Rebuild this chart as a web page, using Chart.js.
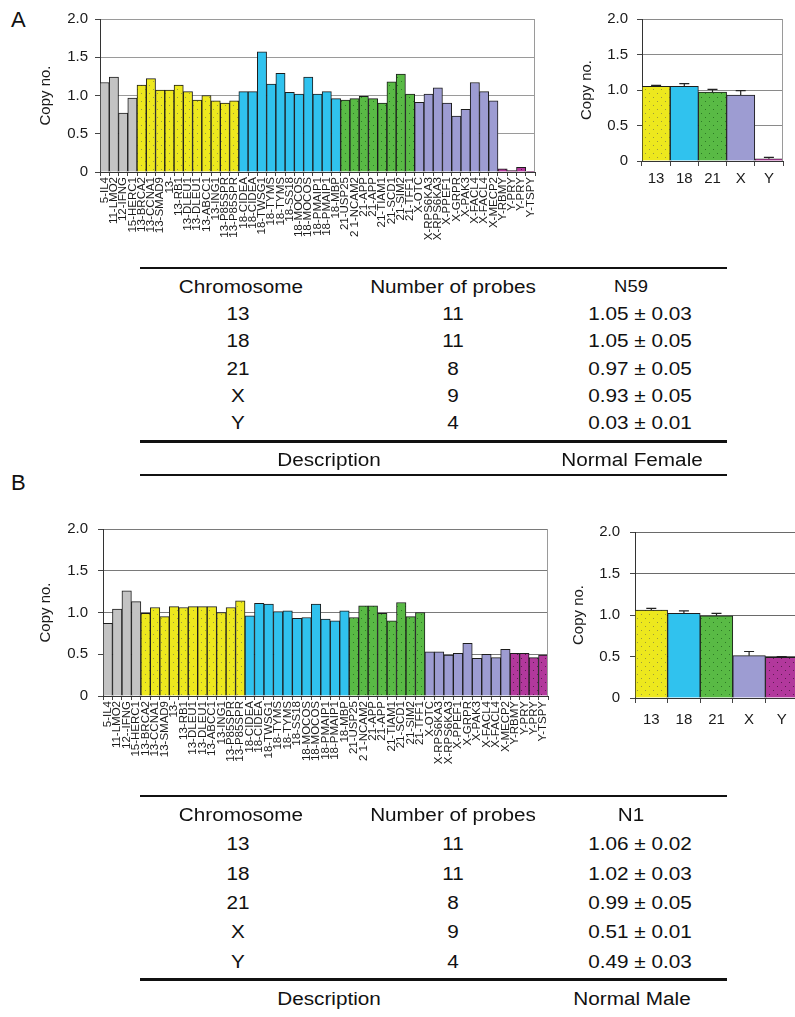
<!DOCTYPE html>
<html>
<head>
<meta charset="utf-8">
<script src="https://cdn.jsdelivr.net/npm/chart.js@4.4.0/dist/chart.umd.min.js"></script>
<style>
  html, body { margin: 0; padding: 0; background: #fff; }
  body { width: 795px; height: 1017px; overflow: hidden; position: relative; font-family: "Liberation Sans", Arial, sans-serif; color: #111; }
  canvas { position: absolute; }
  .panel { position: absolute; font-size: 22px; }
  .t { position: absolute; white-space: nowrap; font-size: 18px; transform: translate(-50%, -50%) scaleX(1.15); }
  .rule { position: absolute; left: 140px; width: 587px; background: #111; }
</style>
</head>
<body>
<div class="panel" style="left:11px;top:7px;">A</div>
<div class="panel" style="left:11px;top:470px;">B</div>
<canvas id="cA" width="545" height="260" style="left:0;top:0;width:545px;height:260px;"></canvas>
<canvas id="cAs" width="255" height="200" style="left:540px;top:0;width:255px;height:200px;"></canvas>
<canvas id="cB" width="560" height="340" style="left:0;top:465px;width:560px;height:340px;"></canvas>
<canvas id="cBs" width="262" height="280" style="left:540px;top:465px;width:262px;height:280px;"></canvas>
<div id="tables"></div>
<script>
// probe labels (same order in both samples)
var probes = ['5-IL4','11-LMO2','12-IFNG','15-HERC1',
  '13-BRCA2','13-CCNA1','13-SMAD9','13-','13-RB1','13-DLEU1','13-DLEU1','13-ABCC1','13-ING1','13-P85SPR','13-P85SPR',
  '18-CIDEA','18-CIDEA','18-TWSG1','18-TYMS','18-TYMS','18-SS18','18-MOCOS','18-MOCOS','18-PMAIP1','18-PMAIP1','18-MBP',
  '21-USP25','2 1-NCAM2','21-APP','21-APP','21-TIAM1','21-SCD1','21-SIM2','21-TFF1',
  'X-OTC','X-RPS6KA3','X-RPS6KA3','X-PPEF1','X-GRPR','X-PAK3','X-FACL4','X-FACL4','X-MECP2',
  'Y-RBMY','Y-PRY','Y-PRY','Y-TSPY'];
var probesB = probes.slice(); probesB[2] = '12--IFNG';

// copy numbers per probe
var copyA = [1.17,1.24,0.77,0.965,
  1.135,1.22,1.07,1.07,1.135,1.05,0.94,1.0,0.93,0.90,0.93,
  1.05,1.05,1.57,1.15,1.29,1.04,1.02,1.24,1.02,1.05,0.96,
  0.94,0.96,0.99,0.96,0.90,1.18,1.28,1.02,
  0.91,1.02,1.10,0.90,0.73,0.82,1.17,1.05,0.93,
  0.04,0.02,0.06,0.01];
var copyB = [0.87,1.04,1.26,1.13,
  0.99,1.06,0.95,1.07,1.06,1.07,1.07,1.07,1.0,1.06,1.14,
  0.96,1.11,1.10,1.01,1.02,0.93,0.94,1.10,0.92,0.90,1.02,
  0.94,1.08,1.08,0.99,0.90,1.12,0.95,1.0,
  0.53,0.53,0.49,0.51,0.63,0.45,0.50,0.46,0.56,
  0.51,0.51,0.46,0.49];

// per-chromosome summary
var chroms = ['13','18','21','X','Y'];
var probeCount = [11, 11, 8, 9, 4];
var meanA = [1.05, 1.05, 0.97, 0.93, 0.03];
var sdA = [0.03, 0.05, 0.05, 0.05, 0.01];
var meanB = [1.06, 1.02, 0.99, 0.51, 0.49];
var sdB = [0.02, 0.03, 0.05, 0.01, 0.03];
// error bars as drawn in the small charts
var errA = [0.015, 0.04, 0.04, 0.06, 0.02];
var errB = [0.02, 0.03, 0.03, 0.05, 0.01];
var yTicks = [0, 0.5, 1.0, 1.5, 2.0];

var FONT = '"Liberation Sans", Arial, sans-serif';

function dotted(base, dot, step) {
  var c = document.createElement('canvas');
  c.width = step; c.height = step;
  var g = c.getContext('2d');
  g.fillStyle = base; g.fillRect(0, 0, step, step);
  g.fillStyle = dot;
  g.fillRect(1, 1, 1, 1);
  g.fillRect(1 + step / 2, 1 + step / 2, 1, 1);
  return g.createPattern(c, 'repeat');
}

var fills = {
  gray: '#c3c3c3',
  y13: dotted('#ede81e', '#9c9a3c', 8),
  c18: '#30c2ee',
  g21: dotted('#59ba45', '#2d7a25', 8),
  pX: '#9d9cd2',
  mY: dotted('#b2389c', '#5e1a52', 8)
};
function fillFor(label) {
  var p = label.replace(/\s/g, '').split('-')[0];
  if (p === '13') return fills.y13;
  if (p === '18') return fills.c18;
  if (p === '21') return fills.g21;
  if (p === 'X') return fills.pX;
  if (p === 'Y') return fills.mY;
  return fills.gray;
}

// right frame line + error bars
var extras = {
  id: 'extras',
  afterDatasetsDraw: function (chart, args, opts) {
    var ctx = chart.ctx, a = chart.chartArea;
    ctx.save();
    if (opts.frame) {
      ctx.strokeStyle = '#9a9a9a'; ctx.lineWidth = 1;
      ctx.beginPath(); ctx.moveTo(a.right - 0.5, a.top); ctx.lineTo(a.right - 0.5, a.bottom); ctx.stroke();
    }
    if (opts.err) {
      var meta = chart.getDatasetMeta(0), ys = chart.scales.y;
      var vals = chart.data.datasets[0].data;
      ctx.strokeStyle = '#222'; ctx.lineWidth = 1.2;
      meta.data.forEach(function (bar, i) {
        var top = ys.getPixelForValue(vals[i] + opts.err[i]);
        ctx.beginPath();
        ctx.moveTo(bar.x, bar.y); ctx.lineTo(bar.x, top);
        ctx.moveTo(bar.x - 5, top); ctx.lineTo(bar.x + 5, top);
        ctx.stroke();
      });
    }
    ctx.restore();
  }
};

function makeChart(id, cfg) {
  var small = cfg.small;
  return new Chart(document.getElementById(id), {
    type: 'bar',
    data: {
      labels: cfg.labels,
      datasets: [{
        data: cfg.values,
        backgroundColor: cfg.colors,
        borderColor: '#1c1c1c',
        borderWidth: 1,
        categoryPercentage: 1,
        barPercentage: 1
      }]
    },
    options: {
      responsive: false,
      animation: false,
      events: [],
      layout: { padding: cfg.pad },
      plugins: {
        legend: { display: false },
        tooltip: { enabled: false },
        extras: { frame: cfg.frame, err: cfg.err }
      },
      scales: {
        x: {
          grid: { display: true, drawOnChartArea: false, drawTicks: true, tickLength: small ? 5 : 4, color: '#444' },
          border: { color: '#333', width: 1 },
          ticks: {
            autoSkip: false,
            maxRotation: small ? 0 : 90,
            minRotation: small ? 0 : 90,
            padding: small ? cfg.xpad : 1,
            color: '#1a1a1a',
            font: { family: FONT, size: small ? 15 : 11.5 }
          },
          afterFit: function (s) { s.height = cfg.xh; s.paddingLeft = 0; s.paddingRight = 0; }
        },
        y: {
          min: 0, max: 2,
          afterBuildTicks: function (s) { s.ticks = yTicks.map(function (v) { return { value: v }; }); },
          grid: { color: cfg.grid, lineWidth: 1, drawTicks: true, tickLength: 5, tickColor: '#444' },
          border: { color: '#333', width: 1 },
          ticks: {
            padding: cfg.ypad,
            color: '#1a1a1a',
            font: { family: FONT, size: 15 },
            callback: function (v) { return v === 0 ? '0' : v.toFixed(1); }
          },
          title: { display: true, text: 'Copy no.', color: '#1a1a1a', font: { family: FONT, size: 15 }, padding: { top: 4, bottom: 0 } },
          afterFit: function (s) { s.width = cfg.yw; s.paddingTop = 0; s.paddingBottom = 0; }
        }
      }
    },
    plugins: [extras]
  });
}

makeChart('cA', {
  labels: probes, values: copyA, colors: probes.map(fillFor),
  pad: { left: 33, top: 19, right: 10, bottom: 0 }, yw: 67, xh: 88, ypad: 7, grid: '#9a9a9a', frame: true
});
makeChart('cAs', {
  small: true, labels: chroms, values: meanA, colors: chroms.map(function (c) { return fillFor(c + '-'); }),
  pad: { left: 34, top: 19, right: 12, bottom: 0 }, yw: 68, xh: 39, ypad: 9, xpad: 4, grid: '#8a8a8a', frame: true, err: errA
});
makeChart('cB', {
  labels: probesB, values: copyB, colors: probesB.map(fillFor),
  pad: { left: 33, top: 64, right: 12, bottom: 0 }, yw: 70, xh: 109, ypad: 10, grid: '#7a7a7a', frame: true
});
makeChart('cBs', {
  small: true, labels: chroms, values: meanB, colors: chroms.map(function (c) { return fillFor(c + '-'); }),
  pad: { left: 26, top: 67, right: 4, bottom: 0 }, yw: 69, xh: 47, ypad: 10, xpad: 8, grid: '#6a6a6a', frame: false, err: errB
});

// summary tables
function fmt(m, s) { return m.toFixed(2) + ' \u00b1 ' + s.toFixed(2); }
function buildTable(top, rowGap, sample, means, sds, desc, bottomRule) {
  var html = '';
  function txt(x, y, s, size) {
    html += '<div class="t" style="left:' + x + 'px;top:' + y + 'px;' + (size ? 'font-size:' + size + 'px;' : '') + '">' + s + '</div>';
  }
  function rule(y, h) { html += '<div class="rule" style="top:' + (y - h / 2) + 'px;height:' + h + 'px;"></div>'; }
  rule(top, 2);
  var hy = top + 19;
  txt(241, hy, 'Chromosome');
  txt(453, hy, 'Number of probes');
  txt(631, hy, sample, sample.length > 2 ? 16 : 18);
  chroms.forEach(function (c, i) {
    var y = hy + rowGap * (i + 1);
    txt(238, y, c);
    txt(453, y, String(probeCount[i]));
    txt(640, y, fmt(means[i], sds[i]));
  });
  var ly = hy + rowGap * 5 + 18;
  rule(ly, 3);
  txt(329, ly + 19, 'Description');
  txt(632, ly + 19, desc);
  if (bottomRule) rule(ly + 34, 1.5);
  return html;
}
document.getElementById('tables').innerHTML =
  buildTable(268, 27.2, 'N59', meanA, sdA, 'Normal Female', true) +
  buildTable(796, 29.3, 'N1', meanB, sdB, 'Normal Male', false);
</script>
</body>
</html>
